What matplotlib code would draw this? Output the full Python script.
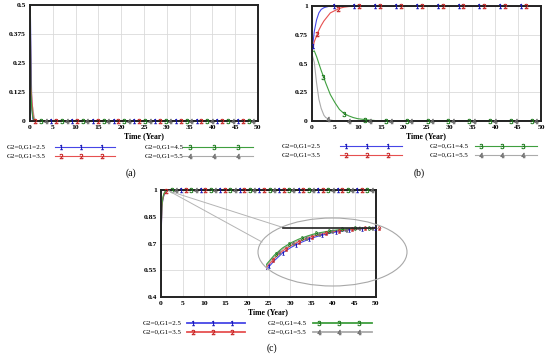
import numpy as np
import matplotlib
matplotlib.use('Agg')
import matplotlib.pyplot as plt
from matplotlib.lines import Line2D
from matplotlib.patches import Ellipse

plt.rcParams['font.family'] = ['Liberation Serif', 'DejaVu Serif']
plt.rcParams['mathtext.fontset'] = 'dejavuserif'

W, H = 550, 356

# series labels / colours
labels = ['G2=0,G1=2.5', 'G2=0,G1=3.5', 'G2=0,G1=4.5', 'G2=0,G1=5.5']
line_colors = ['#4646e6', '#e65050', '#3f9f3f', '#ababab']
mark_colors = ['#1414b4', '#c41e1e', '#1e781e', '#6e6e6e']
mark_offsets = [0.15, 1.2, 2.5, 3.5]
mark_step = 4.55

x_ticks = [0, 5, 10, 15, 20, 25, 30, 35, 40, 45, 50]

# panel (a)
t_a = [0, 0.2, 0.4, 0.6, 0.8, 1.0, 1.5, 50]
a1 = [0.6, 0.3, 0.06, 0.01, 0.0, 0.0, 0.0, 0.0]
a2 = [0.6, 0.15, 0.1, 0.04, 0.01, 0.0, 0.0, 0.0]
a3 = [0.6, 0.12, 0.05, 0.02, 0.005, 0.0, 0.0, 0.0]
a4 = [0.6, 0.1, 0.07, 0.06, 0.03, 0.01, 0.0, 0.0]
a_yticks = [0, 0.125, 0.25, 0.375, 0.5]
a_ylabels = ['0', '0.125', '0.25', '0.375', '0.5']

# panel (b)
t_b = [0, 0.5, 1, 1.5, 2, 2.6, 3, 4, 5, 6, 7, 8, 9, 10, 12, 15, 50]
b1 = [0.6, 0.78, 0.88, 0.94, 0.97, 0.985, 0.99, 1.0, 1.0, 1.0, 1.0, 1.0, 1.0, 1.0, 1.0, 1.0, 1.0]
b2 = [0.6, 0.69, 0.74, 0.79, 0.83, 0.87, 0.89, 0.94, 0.96, 0.98, 0.99, 0.995, 0.998, 1.0, 1.0, 1.0, 1.0]
b3 = [0.6, 0.61, 0.56, 0.5, 0.44, 0.375, 0.33, 0.23, 0.16, 0.1, 0.065, 0.045, 0.03, 0.02, 0.01, 0.0, 0.0]
b4 = [0.58, 0.51, 0.33, 0.19, 0.11, 0.05, 0.03, 0.01, 0.0, 0.0, 0.0, 0.0, 0.0, 0.0, 0.0, 0.0, 0.0]
b_yticks = [0, 0.25, 0.5, 0.75, 1]
b_ylabels = ['0', '0.25', '0.5', '0.75', '1']

# panel (c)
t_c = [0, 0.1, 0.2, 0.3, 0.4, 0.5, 0.6, 0.7, 0.8, 1.0, 1.2, 1.4, 1.6, 2, 50]
c1 = [0.46, 0.8, 0.9, 0.922, 0.94, 0.953, 0.963, 0.971, 0.978, 0.988, 0.994, 0.998, 1.0, 1.0, 1.0]
c2 = [0.47, 0.81, 0.905, 0.927, 0.945, 0.957, 0.967, 0.975, 0.981, 0.99, 0.995, 0.998, 1.0, 1.0, 1.0]
c3 = [0.49, 0.83, 0.912, 0.935, 0.952, 0.964, 0.973, 0.98, 0.986, 0.993, 0.997, 0.999, 1.0, 1.0, 1.0]
c4 = [0.48, 0.82, 0.909, 0.932, 0.949, 0.961, 0.97, 0.978, 0.984, 0.992, 0.996, 0.999, 1.0, 1.0, 1.0]
c_yticks = [0.4, 0.55, 0.7, 0.85, 1]
c_ylabels = ['0.4', '0.55', '0.7', '0.85', '1']


def box(l, t, r, b):
    return [l / W, 1 - b / H, (r - l) / W, (b - t) / H]


def style_axes(ax, ylim, yticks, ylabels):
    ax.set_xlim(0, 50)
    ax.set_ylim(*ylim)
    ax.set_xticks(x_ticks, [str(v) for v in x_ticks])
    ax.set_yticks(yticks, ylabels)
    ax.grid(True, color='#dadada', lw=0.6)
    ax.set_axisbelow(True)
    ax.tick_params(length=0, labelsize=5.4, pad=3)
    for lab in ax.get_xticklabels() + ax.get_yticklabels():
        lab.set_fontweight('bold')
    for s in ax.spines.values():
        s.set_linewidth(1.4)
        s.set_color('#222222')
    ax.set_xlabel('Time (Year)', fontsize=5.6, fontweight='bold', labelpad=1.5)


def draw_series(ax, t, series, step=mark_step, offsets=mark_offsets, ms=3.6,
                tmin=0.0, tmax=50.01):
    order = [3, 0, 1, 2]
    for i in order:
        v = series[i]
        ax.plot(t, v, color=line_colors[i], lw=0.8, zorder=2)
        mt = np.arange(offsets[i], tmax, step)
        mt = mt[mt >= tmin]
        mv = np.interp(mt, t, v)
        ax.plot(mt, mv, ls='none', marker='$%d$' % (i + 1), ms=ms, mew=0.3,
                color=mark_colors[i], clip_on=False, zorder=3)


def draw_key(cols, rows, lw=0.8):
    # cols: list of (x_text, x_line0, x_line1), rows: y pixels
    for i in range(4):
        xt, x0, x1 = cols[i // 2]
        y = rows[i % 2]
        fig.text(xt / W, 1 - y / H, labels[i], ha='left', va='center', fontsize=5)
        fig.add_artist(Line2D([x0 / W, x1 / W], [1 - y / H] * 2, color=line_colors[i],
                              lw=lw, transform=fig.transFigure))
        mx = [x0 + (x1 - x0) * f for f in (0.1, 0.44, 0.78)]
        fig.add_artist(Line2D([m / W for m in mx], [1 - y / H] * 3, ls='none',
                              marker='$%d$' % (i + 1), ms=3.6, mew=0.3, color=mark_colors[i],
                              transform=fig.transFigure))


fig = plt.figure(figsize=(W / 100, H / 100), dpi=100)

ax_a = fig.add_axes(box(30, 5, 258, 121))
style_axes(ax_a, (0, 0.5), a_yticks, a_ylabels)
draw_series(ax_a, t_a, [a1, a2, a3, a4], tmin=0.5)
draw_key([(7, 55, 115), (145, 183, 253)], [147, 156])
fig.text(131 / W, 1 - 173 / H, '(a)', ha='center', va='center', fontsize=7)

ax_b = fig.add_axes(box(312, 6, 541, 121))
style_axes(ax_b, (0, 1), b_yticks, b_ylabels)
draw_series(ax_b, t_b, [b1, b2, b3, b4])
draw_key([(282, 340, 402), (430, 475, 537)], [146, 155])
fig.text(419 / W, 1 - 173 / H, '(b)', ha='center', va='center', fontsize=7)

ax_c = fig.add_axes(box(161, 190, 376, 297))
style_axes(ax_c, (0.4, 1.0), c_yticks, c_ylabels)
draw_series(ax_c, t_c, [c1, c2, c3, c4], tmin=0.5)
draw_key([(143, 187, 245), (268, 313, 372)], [323, 332], lw=1.3)
fig.text(272 / W, 1 - 348 / H, '(c)', ha='center', va='center', fontsize=7)

# zoom inset of panel (c)
fig.add_artist(Ellipse((332.5 / W, 1 - 252 / H), 149 / W, 68 / H, transform=fig.transFigure,
                       fill=False, ec='#a8a8a8', lw=0.8))
for (x1, y1) in [(283, 227.5), (262, 242)]:
    fig.add_artist(Line2D([169 / W, x1 / W], [1 - 191 / H, 1 - y1 / H], color='#b4b4b4',
                          lw=0.7, transform=fig.transFigure))
fig.add_artist(Line2D([283 / W, 376 / W], [1 - 227.5 / H] * 2, color='#222222', lw=1.2,
                      transform=fig.transFigure))

ax_in = fig.add_axes(box(266, 227.5, 382, 270))
ax_in.set_xlim(0.2, 1.6)
ax_in.set_ylim(0.9, 1.0)
ax_in.axis('off')
draw_series(ax_in, t_c, [c1, c2, c3, c4], step=0.16,
            offsets=[0.24, 0.28, 0.32, 0.36], ms=2.6, tmax=1.6)

fig.savefig('out.png', dpi=100)
